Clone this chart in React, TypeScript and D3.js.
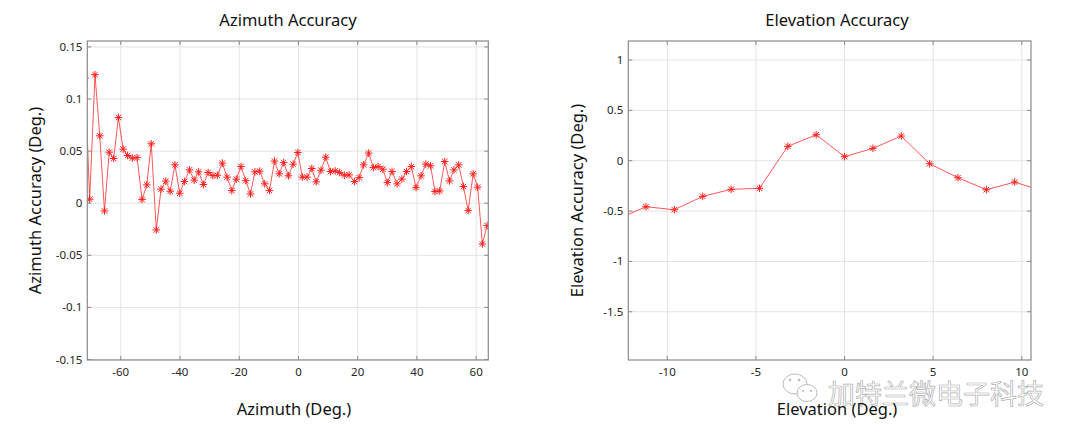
import React from "react";
import * as d3 from "d3";

// azimuth sweep (first point sits just outside the axes and gets clipped)
const azimuthDeg = [
  -72.1, -70.5, -68.7, -67.1, -65.5, -63.9, -62.4, -60.8, -59.2, -57.7,
  -56.1, -54.5, -52.8, -51.2, -49.7, -48.0, -46.4, -44.8, -43.3, -41.7,
  -40.1, -38.5, -36.8, -35.2, -33.7, -32.1, -30.5, -28.9, -27.4, -25.7,
  -24.1, -22.5, -21.0, -19.4, -17.8, -16.2, -14.7, -13.1, -11.4, -9.8,
  -8.1, -6.5, -5.0, -3.4, -1.8, -0.2, 1.3, 2.9, 4.5, 6.0,
  7.6, 9.2, 10.8, 12.4, 13.9, 15.5, 17.1, 18.9, 20.5, 22.0,
  23.7, 25.3, 26.9, 28.5, 30.0, 31.6, 33.3, 34.9, 36.5, 38.1,
  39.7, 41.4, 43.0, 44.6, 46.1, 47.7, 49.4, 51.0, 52.5, 54.1,
  55.7, 57.3, 59.0, 60.5, 62.1, 63.7,
];
const azimuthAcc = [
  0.12, 0.0038, 0.1234, 0.0647, -0.0074, 0.049, 0.0429, 0.0823, 0.0519, 0.0458,
  0.0433, 0.0438, 0.0035, 0.0176, 0.057, -0.0257, 0.0135, 0.0212, 0.0115, 0.0368,
  0.0096, 0.0208, 0.032, 0.0221, 0.0301, 0.0179, 0.0295, 0.0265, 0.0268, 0.0385,
  0.025, 0.0121, 0.0231, 0.0352, 0.0217, 0.0089, 0.0301, 0.0308, 0.0186, 0.0121,
  0.0404, 0.0282, 0.039, 0.0263, 0.0375, 0.0487, 0.025, 0.025, 0.0333, 0.0205,
  0.0317, 0.0442, 0.0304, 0.031, 0.0294, 0.0269, 0.0272, 0.0208, 0.0246, 0.0368,
  0.0481, 0.0342, 0.0352, 0.0327, 0.0198, 0.0304, 0.0186, 0.0231, 0.0304, 0.0352,
  0.015, 0.0263, 0.0375, 0.0359, 0.0112, 0.0118, 0.04, 0.0214, 0.032, 0.0368,
  0.016, -0.0071, 0.0282, 0.0154, -0.0391, -0.0215,
];

const elevationDeg = [-12.8, -11.2, -9.6, -8, -6.4, -4.8, -3.2, -1.6, 0, 1.6, 3.2, 4.8, 6.4, 8, 9.6, 11.2];
const elevationAcc = [
  -0.577, -0.457, -0.487, -0.354, -0.284, -0.274, 0.143, 0.258, 0.04, 0.123,
  0.245, -0.03, -0.169, -0.288, -0.212, -0.302,
];

const azXTicks = [-60, -40, -20, 0, 20, 40, 60];
const azYTicks = [0.15, 0.1, 0.05, 0, -0.05, -0.1, -0.15];
const elXTicks = [-10, -5, 0, 5, 10];
const elYTicks = [1, 0.5, 0, -0.5, -1, -1.5];

const FONT = "'Noto Sans', 'Open Sans', sans-serif";
const BOX = "#8a8a8a";
const GRID = "#e3e3e3";
const TICKTXT = "#262626";
const RED = "#ff1f1f";

interface PanelProps {
  id: string;
  x0: number;
  x1: number;
  y0: number;
  y1: number;
  xDomain: [number, number];
  yDomain: [number, number];
  xTicks: number[];
  yTicks: number[];
  xs: number[];
  ys: number[];
  title: string;
  titleX: number;
  xLabel: string;
  xLabelX: number;
  yLabel: string;
  yLabelX: number;
}

function Star({ x, y }: { x: number; y: number }) {
  const r = 3.8;
  const d = r * 0.72;
  return (
    <g stroke={RED} strokeWidth={1}>
      <line x1={x - r} y1={y} x2={x + r} y2={y} />
      <line x1={x} y1={y - r} x2={x} y2={y + r} />
      <line x1={x - d} y1={y - d} x2={x + d} y2={y + d} />
      <line x1={x - d} y1={y + d} x2={x + d} y2={y - d} />
    </g>
  );
}

function Panel(p: PanelProps) {
  const x = d3.scaleLinear().domain(p.xDomain).range([p.x0, p.x1]);
  const y = d3.scaleLinear().domain(p.yDomain).range([p.y1, p.y0]);
  const pts = p.xs.map((v, i) => [v, p.ys[i]] as [number, number]);
  const line = d3
    .line<[number, number]>()
    .x((d) => x(d[0]))
    .y((d) => y(d[1]));
  const tk = 4;

  return (
    <g fontFamily={FONT}>
      <defs>
        <clipPath id={p.id}>
          <rect x={p.x0} y={p.y0} width={p.x1 - p.x0} height={p.y1 - p.y0} />
        </clipPath>
      </defs>
      <rect x={p.x0} y={p.y0} width={p.x1 - p.x0} height={p.y1 - p.y0} fill="#fff" />
      {/* grid */}
      {p.xTicks.map((t) => (
        <line key={"gx" + t} x1={x(t)} x2={x(t)} y1={p.y0} y2={p.y1} stroke={GRID} />
      ))}
      {p.yTicks.map((t) => (
        <line key={"gy" + t} x1={p.x0} x2={p.x1} y1={y(t)} y2={y(t)} stroke={GRID} />
      ))}
      {/* data */}
      <g clipPath={`url(#${p.id})`}>
        <path d={line(pts) || ""} fill="none" stroke={RED} strokeOpacity={0.75} strokeWidth={1} />
        {pts.map((d, i) => (
          <Star key={i} x={x(d[0])} y={y(d[1])} />
        ))}
      </g>
      {/* box + inward ticks */}
      <rect x={p.x0} y={p.y0} width={p.x1 - p.x0} height={p.y1 - p.y0} fill="none" stroke={BOX} strokeWidth={1.2} />
      {p.xTicks.map((t) => (
        <g key={"tx" + t} stroke={BOX}>
          <line x1={x(t)} x2={x(t)} y1={p.y1} y2={p.y1 - tk} />
          <line x1={x(t)} x2={x(t)} y1={p.y0} y2={p.y0 + tk} />
        </g>
      ))}
      {p.yTicks.map((t) => (
        <g key={"ty" + t} stroke={BOX}>
          <line x1={p.x0} x2={p.x0 + tk} y1={y(t)} y2={y(t)} />
          <line x1={p.x1} x2={p.x1 - tk} y1={y(t)} y2={y(t)} />
        </g>
      ))}
      {/* tick labels */}
      {p.xTicks.map((t) => (
        <text key={"lx" + t} x={x(t)} y={p.y1 + 16} textAnchor="middle" fontSize={11.5} fill={TICKTXT}>
          {String(t)}
        </text>
      ))}
      {p.yTicks.map((t) => (
        <text key={"ly" + t} x={p.x0 - 5} y={y(t)} dy="0.35em" textAnchor="end" fontSize={11.5} fill={TICKTXT}>
          {String(t)}
        </text>
      ))}
      <text x={p.titleX} y={26} textAnchor="middle" fontSize={16.5} fill="#111">
        {p.title}
      </text>
      <text x={p.xLabelX} y={415} textAnchor="middle" fontSize={16.5} fill="#111">
        {p.xLabel}
      </text>
      <text
        transform={`translate(${p.yLabelX},${(p.y0 + p.y1) / 2}) rotate(-90)`}
        textAnchor="middle"
        fontSize={16.5}
        fill="#111"
      >
        {p.yLabel}
      </text>
    </g>
  );
}

function Watermark() {
  return (
    <g opacity={0.7}>
      <ellipse cx={795} cy={384} rx={12} ry={10} fill="#fff" stroke="#a0a0a0" strokeWidth={1} />
      <ellipse cx={807} cy={393} rx={10} ry={8.5} fill="#fff" stroke="#a0a0a0" strokeWidth={1} />
      <circle cx={790} cy={380} r={1.3} fill="#a0a0a0" />
      <circle cx={799} cy={380} r={1.3} fill="#a0a0a0" />
      <circle cx={803} cy={391} r={1.1} fill="#a0a0a0" />
      <circle cx={811} cy={391} r={1.1} fill="#a0a0a0" />
      <text
        x={828}
        y={404}
        fontSize={27}
        fontFamily="'Noto Sans CJK SC', sans-serif"
        fill="#fff"
        stroke="#909090"
        strokeWidth={0.7}
      >
        加特兰微电子科技
      </text>
    </g>
  );
}

export default function App() {
  return (
    <svg
      width={1080}
      height={438}
      style={{ position: "absolute", left: 0, top: 0, background: "#fff" }}
    >
      <rect width={1080} height={438} fill="#fff" />
      <Panel
        id="clipAz"
        x0={87.3}
        x1={488.3}
        y0={41}
        y1={360}
        xDomain={[-71.3, 64.1]}
        yDomain={[-0.1505, 0.1557]}
        xTicks={azXTicks}
        yTicks={azYTicks}
        xs={azimuthDeg}
        ys={azimuthAcc}
        title="Azimuth Accuracy"
        titleX={288}
        xLabel="Azimuth (Deg.)"
        xLabelX={294}
        yLabel="Azimuth Accuracy (Deg.)"
        yLabelX={41}
      />
      <Watermark />
      <Panel
        id="clipEl"
        x0={628.3}
        x1={1031}
        y0={41}
        y1={360}
        xDomain={[-12.2, 10.52]}
        yDomain={[-1.979, 1.189]}
        xTicks={elXTicks}
        yTicks={elYTicks}
        xs={elevationDeg}
        ys={elevationAcc}
        title="Elevation Accuracy"
        titleX={837}
        xLabel="Elevation (Deg.)"
        xLabelX={837}
        yLabel="Elevation Accuracy (Deg.)"
        yLabelX={583}
      />
    </svg>
  );
}
